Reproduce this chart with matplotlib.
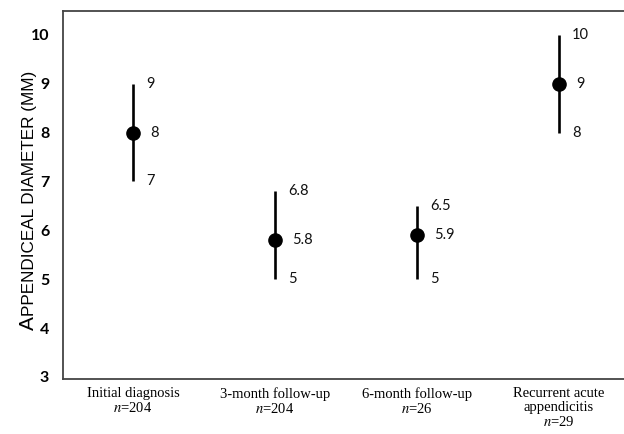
import matplotlib
matplotlib.use("Agg")
import matplotlib.pyplot as plt

# -------- Data -------- #
groups = ["Initial diagnosis\n$n$=204", "3-month follow-up\n$n$=204",
          "6-month follow-up\n$n$=26", "Recurrent acute\nappendicitis\n$n$=29"]
medians = [8, 5.8, 5.9, 9]
lows = [7, 5, 5, 8]
highs = [9, 6.8, 6.5, 10]
yticks = [3, 4, 5, 6, 7, 8, 9, 10]

plt.rcParams["mathtext.fontset"] = "stix"

fig = plt.figure(figsize=(6.24, 4.34), dpi=100)
ax = fig.add_axes([0.101, 0.127, 0.899, 0.848])

xs = list(range(len(groups)))
for x, m, lo, hi in zip(xs, medians, lows, highs):
    ax.plot([x, x], [lo, hi], color="black", lw=1.9, solid_capstyle="butt", zorder=2)
    ax.plot(x, m, "o", color="black", ms=9.5, zorder=3)
    for v, dx in [(lo, 13), (hi, 13), (m, 17)]:
        ax.annotate(f"{v:g}", (x, v), xytext=(dx, 0), textcoords="offset pixels",
                    ha="left", va="center", fontsize=10.5, family="Lato", color="#111111")

ax.set_xlim(-0.493, 3.458)
ax.set_ylim(2.96, 10.49)
ax.set_yticks(yticks)
ax.set_yticklabels([str(t) for t in yticks], family="Lato", fontweight="bold", fontsize=11.5)
ax.set_xticks(xs)
ax.set_xticklabels(groups, family="Liberation Serif", fontsize=10.5, linespacing=1.08)
ax.tick_params(axis="both", length=0)
ax.tick_params(axis="y", pad=10)
ax.tick_params(axis="x", pad=6)

for side in ["left", "bottom", "top"]:
    ax.spines[side].set_color("#444444")
    ax.spines[side].set_linewidth(1.3)
ax.spines["right"].set_visible(False)

# small-caps style y label
t1 = fig.text(0.046, 0.24, "A", rotation=90, family="Liberation Sans", fontsize=15,
              ha="center", va="bottom")
ax.annotate("PPENDICEAL DIAMETER (MM)", xy=(0.55, 1), xycoords=t1, rotation=90,
            family="Liberation Sans", fontsize=12.3, ha="center", va="bottom")

fig.savefig("out.png", dpi=100)
